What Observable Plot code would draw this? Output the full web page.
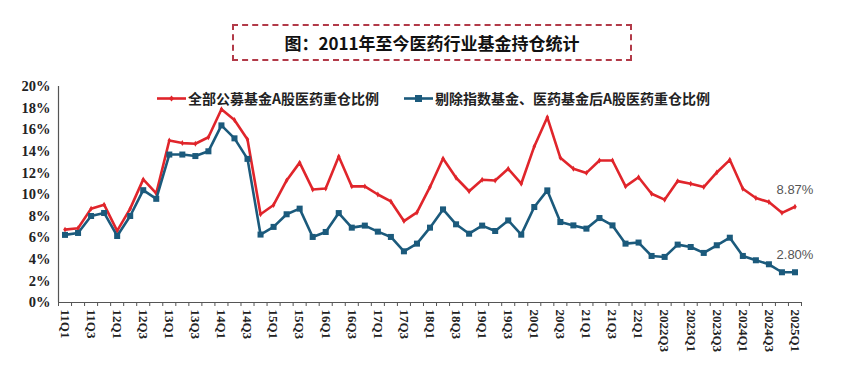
<!DOCTYPE html>
<html>
<head>
<meta charset="utf-8">
<script src="https://cdn.jsdelivr.net/npm/d3@7"></script>
<script src="https://cdn.jsdelivr.net/npm/@observablehq/plot@0.6"></script>
<style>
  body { margin: 0; background: #fff; }
  #wrap { position: relative; width: 866px; height: 374px; overflow: hidden; background:#fff; }
  #chart { position: absolute; left: 0; top: 0; }
  #title { position: absolute; left: 232px; top: 24px; width: 396px; height: 33px;
    border: 2px dashed #b23a48; display: flex; align-items: center; justify-content: center;
    font-family: "Noto Sans CJK SC", sans-serif; font-weight: bold; font-size: 17px; color: #111; }
  .leg { position: absolute; top: 88px; display: flex; align-items: center;
    font-family: "Noto Sans CJK SC", sans-serif; font-weight: bold; font-size: 14px; color: #222; white-space: nowrap; }
  .leg svg { margin-right: 2px; }
  #chart svg text { font-family: "Times New Roman", "Liberation Serif", "DejaVu Serif", serif !important; font-weight: bold; }
  #chart svg g.endlab text { font-family: "Liberation Sans", Arial, sans-serif !important; font-weight: normal; }
</style>
</head>
<body>
<div id="wrap">
  <div id="chart"></div>
  <div id="title">图：2011年至今医药行业基金持仓统计</div>
  <div class="leg" id="leg1" style="left:157px"></div>
  <div class="leg" id="leg2" style="left:404px"></div>
</div>
<script>
const quarters = [
  "11Q1","11Q2","11Q3","11Q4","12Q1","12Q2","12Q3","12Q4","13Q1","13Q2","13Q3","13Q4",
  "14Q1","14Q2","14Q3","14Q4","15Q1","15Q2","15Q3","15Q4","16Q1","16Q2","16Q3","16Q4",
  "17Q1","17Q2","17Q3","17Q4","18Q1","18Q2","18Q3","18Q4","19Q1","19Q2","19Q3","19Q4",
  "20Q1","20Q2","20Q3","20Q4","21Q1","21Q2","21Q3","21Q4","22Q1","2022Q2","2022Q3","2022Q4",
  "2023Q1","2023Q2","2023Q3","2023Q4","2024Q1","2024Q2","2024Q3","2024Q4","2025Q1"
];
const tickLabels = [
  "11Q1","11Q3","12Q1","12Q3","13Q1","13Q3","14Q1","14Q3","15Q1","15Q3","16Q1","16Q3",
  "17Q1","17Q3","18Q1","18Q3","19Q1","19Q3","20Q1","20Q3","21Q1","21Q3","22Q1","2022Q3",
  "2023Q1","2023Q3","2024Q1","2024Q3","2025Q1"
];
const yTicks = [0, 2, 4, 6, 8, 10, 12, 14, 16, 18, 20];
const seriesNames = ["全部公募基金A股医药重仓比例", "剔除指数基金、医药基金后A股医药重仓比例"];
// 全部公募基金 (%)
const allFunds = [
  6.75, 6.87, 8.69, 9.06, 6.63, 8.69, 11.4, 10.1, 15.0, 14.76,
  14.7, 15.3, 17.9, 16.9, 15.1, 8.17, 9.03, 11.3, 12.95, 10.47,
  10.56, 13.52, 10.75, 10.75, 10.0, 9.36, 7.54, 8.34, 10.7, 13.34,
  11.55, 10.3, 11.36, 11.3, 12.38, 11.0, 14.45, 17.15, 13.4, 12.38,
  12.0, 13.15, 13.15, 10.75, 11.6, 10.07, 9.52, 11.24, 11.0, 10.69,
  12.04, 13.21, 10.53, 9.67, 9.3, 8.3, 8.87
];
// 剔除指数基金、医药基金后 (%)
const exFunds = [
  6.26, 6.44, 8.01, 8.29, 6.16, 8.01, 10.4, 9.6, 13.7, 13.7,
  13.56, 14.0, 16.4, 15.2, 13.3, 6.29, 7.0, 8.17, 8.69, 6.07,
  6.53, 8.28, 6.93, 7.12, 6.56, 6.07, 4.74, 5.45, 6.93, 8.62,
  7.24, 6.37, 7.12, 6.62, 7.6, 6.28, 8.84, 10.38, 7.45, 7.14,
  6.84, 7.82, 7.14, 5.45, 5.55, 4.31, 4.22, 5.36, 5.14, 4.59,
  5.3, 6.0, 4.31, 3.91, 3.54, 2.8, 2.8
];
const endLabels = ["8.87%", "2.80%"];

const RED = "#e0252b", BLUE = "#1b5a7c";
const data = quarters.map((q, i) => ({ i, q, all: allFunds[i], ex: exFunds[i] }));
const n = quarters.length;
const labelIdx = tickLabels.map(t => quarters.indexOf(t));
const boundaries = d3.range(n + 1).map(k => k - 0.5);
const last = data[n - 1];

const chart = Plot.plot({
  width: 866, height: 374,
  marginTop: 86, marginBottom: 72, marginLeft: 58, marginRight: 65,
  style: { background: "transparent" },
  x: { domain: [-0.5, n - 0.5] },
  y: { domain: [0, 20] },
  marks: [
    Plot.axisY({ ticks: yTicks, tickFormat: d => d + "%", tickSize: 0, tickPadding: 8, label: null,
      fontSize: 14.5, fill: "#222" }),
    Plot.axisX({ ticks: boundaries, tickFormat: () => "", tickSize: 4, label: null, stroke: "#555" }),
    Plot.axisX({ ticks: labelIdx, tickFormat: i => quarters[i], tickRotate: 90, tickSize: 0,
      tickPadding: 7, label: null, fontSize: 13, fill: "#222" }),
    Plot.ruleY([0], { stroke: "#555", strokeWidth: 1.2 }),
    Plot.ruleX([-0.5], { y1: 0, y2: 20, stroke: "#555", strokeWidth: 1.2 }),
    Plot.line(data, { x: "i", y: "all", stroke: RED, strokeWidth: 2.6 }),
    Plot.dot(data, { x: "i", y: "all", fill: RED, r: 1.8, symbol: "diamond" }),
    Plot.line(data, { x: "i", y: "ex", stroke: BLUE, strokeWidth: 2.6 }),
    Plot.dot(data, { x: "i", y: "ex", fill: BLUE, r: 3.4, symbol: "square" }),
    Plot.text([last], { x: "i", y: "all", text: () => endLabels[0], dy: -17, fontSize: 13,
      fill: "#555", className: "endlab" }),
    Plot.text([last], { x: "i", y: "ex", text: () => endLabels[1], dy: -17, fontSize: 13,
      fill: "#555", className: "endlab" })
  ]
});
document.getElementById("chart").appendChild(chart);

function legendItem(id, color, symbol, name) {
  const el = document.getElementById(id);
  const marker = symbol === "square"
    ? `<rect x="11" y="3" width="7" height="7" fill="${color}"/>`
    : `<path d="M14.5 3.5 L17 6.5 L14.5 9.5 L12 6.5 Z" fill="${color}"/>`;
  el.innerHTML = `<svg width="29" height="13"><line x1="0" y1="6.5" x2="29" y2="6.5" stroke="${color}" stroke-width="2.6"/>${marker}</svg><span>${name}</span>`;
}
legendItem("leg1", RED, "diamond", seriesNames[0]);
legendItem("leg2", BLUE, "square", seriesNames[1]);
</script>
</body>
</html>
